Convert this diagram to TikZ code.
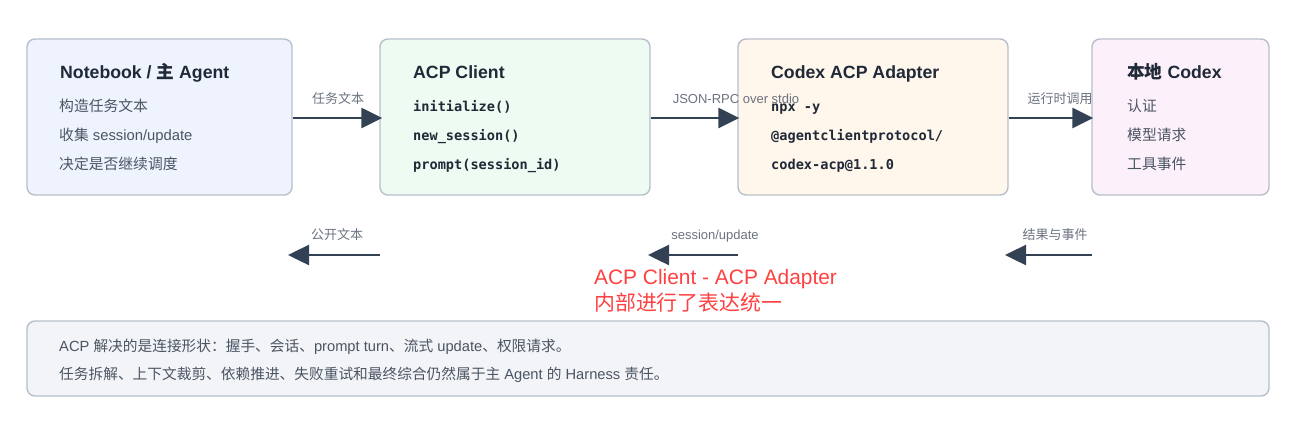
\documentclass[tikz,border=0pt]{standalone}
\usepackage{fontspec}
\setmainfont{Liberation Sans}
\newfontfamily\cjk{Noto Sans CJK SC}
\newfontfamily\mono{DejaVu Sans Mono}
\usetikzlibrary{arrows.meta}
\definecolor{bordc}{HTML}{B7BFCB}
\definecolor{fillA}{HTML}{EEF3FE}
\definecolor{fillB}{HTML}{EEFBF3}
\definecolor{fillC}{HTML}{FFF6EC}
\definecolor{fillD}{HTML}{FCF1FB}
\definecolor{fillE}{HTML}{F2F4F7}
\definecolor{titlec}{HTML}{1F2937}
\definecolor{bodyc}{HTML}{4B5563}
\definecolor{labc}{HTML}{6B7280}
\definecolor{arrc}{HTML}{334155}
\definecolor{redc}{HTML}{FF4040}
\tikzset{
  card/.style={draw=bordc, line width=1.4pt, rounded corners=8pt, minimum height=156pt, inner sep=0pt},
  ttl/.style={anchor=base west, inner sep=0pt, text=titlec, font=\fontsize{17.7}{21}\selectfont\bfseries},
  bodytxt/.style={anchor=base west, inner sep=0pt, text=bodyc, font=\fontsize{14.8}{18}\selectfont},
  foottxt/.style={anchor=base west, inner sep=0pt, text=bodyc, font=\fontsize{14.7}{18}\selectfont},
  monotxt/.style={anchor=base west, inner sep=0pt, text=titlec, font=\fontsize{13.6}{16}\selectfont\mono\bfseries},
  lab/.style={anchor=base, inner sep=0pt, text=labc, font=\fontsize{13}{16}\selectfont},
  arr/.style={draw=arrc, line width=2.5pt, -{Triangle[length=21pt,width=20pt]}},
  redtxt/.style={anchor=base west, inner sep=0pt, text=redc, font=\fontsize{20.9}{25}\selectfont}
}
\begin{document}
\begin{tikzpicture}[x=1pt,y=-1pt]
\useasboundingbox (0,0) rectangle (1316,445);
% boxes
\node[card, fill=fillA, minimum width=265pt] (b1) at (159.5,117) {};
\node[card, fill=fillB, minimum width=270pt] (b2) at (515,117) {};
\node[card, fill=fillC, minimum width=270pt] (b3) at (873,117) {};
\node[card, fill=fillD, minimum width=177pt] (b4) at (1180.5,117) {};
\node[draw=bordc, line width=1.4pt, rounded corners=8pt, fill=fillE, minimum width=1242pt, minimum height=75pt, inner sep=0pt] (b5) at (648,358.5) {};
% box 1
\node[ttl] (t1) at (60,78) {Notebook / {\cjk\bfseries 主} Agent};
\node[bodytxt] (t1a) at (59,111) {\cjk 构造任务文本};
\node[bodytxt] (t1b) at (59,140) {{\cjk 收集} session/update};
\node[bodytxt] (t1c) at (59,169) {\cjk 决定是否继续调度};
% box 2
\node[ttl] (t2) at (413,78) {ACP Client};
\node[monotxt] (t2a) at (413,111) {initialize()};
\node[monotxt] (t2b) at (413,140) {new\_session()};
\node[monotxt] (t2c) at (413,169) {prompt(session\_id)};
% box 3
\node[ttl] (t3) at (771,78) {Codex ACP Adapter};
\node[monotxt] (t3a) at (771,111) {npx -y};
\node[monotxt] (t3b) at (771,140) {@agentclientprotocol/};
\node[monotxt] (t3c) at (771,169) {codex-acp@1.1.0};
% box 4
\node[ttl] (t4) at (1127,78) {{\cjk\bfseries 本地} Codex};
\node[bodytxt] (t4a) at (1127,111) {\cjk 认证};
\node[bodytxt] (t4b) at (1127,140) {\cjk 模型请求};
\node[bodytxt] (t4c) at (1127,169) {\cjk 工具事件};
% top arrows
\draw[arr, shorten >=-3pt] (b1.east |- 0,118) -- (b2.west |- 0,118);
\draw[arr, shorten >=-2pt] (b2.east |- 0,118) -- (b3.west |- 0,118);
\draw[arr, shorten >=-2pt] (b3.east |- 0,118) -- (b4.west |- 0,118);
\node[lab] (l1) at (338,103) {\cjk 任务文本};
\node[lab] (l2) at (736,103) {JSON-RPC over stdio};
\node[lab] (l3) at (1060,103) {\cjk 运行时调用};
% bottom arrows
\coordinate (r1s) at (380,255);
\coordinate (r1e) at (288,255);
\coordinate (r2s) at (738,255);
\coordinate (r2e) at (648,255);
\coordinate (r3s) at (1092,255);
\coordinate (r3e) at (1005,255);
\draw[arr] (r1s) -- (r1e);
\draw[arr] (r2s) -- (r2e);
\draw[arr] (r3s) -- (r3e);
\node[lab] (l4) at (337,239) {\cjk 公开文本};
\node[lab] (l5) at (715,239) {session/update};
\node[lab] (l6) at (1055,239) {\cjk 结果与事件};
% red note
\node[redtxt] (n1) at (594,284) {ACP Client - ACP Adapter};
\node[redtxt] (n2) at (594,310) {\cjk 内部进行了表达统一};
% bottom text
\node[foottxt] (s1) at (59,351) {ACP {\cjk 解决的是连接形状：握手、会话、}prompt turn{\cjk 、流式} update{\cjk 、权限请求。}};
\node[foottxt] (s2) at (59,379) {{\cjk 任务拆解、上下文裁剪、依赖推进、失败重试和最终综合仍然属于主} Agent {\cjk 的} Harness {\cjk 责任。}};
\end{tikzpicture}
\end{document}
